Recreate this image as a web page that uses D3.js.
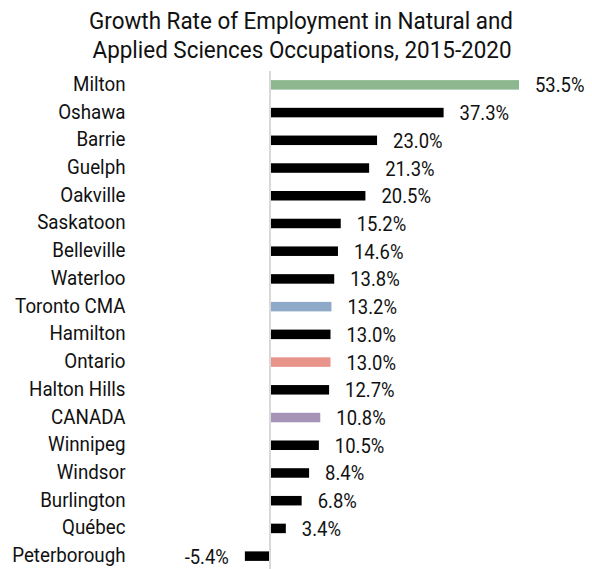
<!DOCTYPE html>
<html>
<head>
<meta charset="utf-8">
<script src="https://cdn.jsdelivr.net/npm/d3@7"></script>
<style>
  html, body { margin: 0; padding: 0; background: #fff; }
  svg { display: block; font-family: Roboto, "Noto Sans", sans-serif; }
</style>
</head>
<body>
<svg id="chart" width="592" height="569"></svg>
<script>
// Growth rate of employment in natural and applied sciences occupations, 2015-2020 (%)
const titleLines = [
  "Growth Rate of Employment in Natural and",
  "Applied Sciences Occupations, 2015-2020"
];
const places = [
  "Milton", "Oshawa", "Barrie", "Guelph", "Oakville", "Saskatoon",
  "Belleville", "Waterloo", "Toronto CMA", "Hamilton", "Ontario",
  "Halton Hills", "CANADA", "Winnipeg", "Windsor", "Burlington",
  "Québec", "Peterborough"
];
const growth = [
  53.5, 37.3, 23.0, 21.3, 20.5, 15.2,
  14.6, 13.8, 13.2, 13.0, 13.0,
  12.7, 10.8, 10.5, 8.4, 6.8,
  3.4, -5.4
];
// Highlighted places get their own fill; everything else is black
const highlight = {
  "Milton": "#8db88f",
  "Toronto CMA": "#8faac8",
  "Ontario": "#e9948a",
  "CANADA": "#a793b8"
};

const rows = places.map((p, i) => ({ place: p, value: growth[i] }));

const svg = d3.select("#chart");

const x = d3.scaleLinear().domain([0, 53.5]).range([270, 519]);
const y = d3.scaleBand().domain(places).range([71, 570]).paddingInner(0.657).paddingOuter(0.3285);

// Condensed text helper: draw inside a horizontally scaled group
function ctext(g, px, py, str, anchor, size, squeeze) {
  return g.append("text")
    .attr("transform", `translate(${px},${py}) scale(${squeeze},1)`)
    .attr("text-anchor", anchor)
    .attr("font-size", size)
    .attr("fill", "#111")
    .text(str);
}

// Title
const tg = svg.append("g");
ctext(tg, 301, 28.5, titleLines[0], "middle", 24, 0.935);
ctext(tg, 302, 57.5, titleLines[1], "middle", 24, 0.935);

// Bars
svg.append("g").selectAll("rect")
  .data(rows)
  .join("rect")
  .attr("x", d => Math.min(x(0), x(d.value)))
  .attr("y", d => y(d.place))
  .attr("width", d => Math.abs(x(d.value) - x(0)))
  .attr("height", y.bandwidth())
  .attr("fill", d => highlight[d.place] || "#000");

// Zero line
svg.append("line")
  .attr("x1", x(0)).attr("x2", x(0))
  .attr("y1", y.range()[0]).attr("y2", 569)
  .attr("stroke", "#d9d9d9")
  .attr("stroke-width", 2);

// Category labels
const lg = svg.append("g");
rows.forEach(d => {
  const cy = y(d.place) + y.bandwidth() / 2;
  ctext(lg, 125.5, cy + 6, d.place, "end", 20.5, 0.915);
});

// Value labels
const vg = svg.append("g");
rows.forEach(d => {
  const cy = y(d.place) + y.bandwidth() / 2;
  const label = d.value.toFixed(1) + "%";
  if (d.value >= 0) ctext(vg, x(d.value) + 16, cy + 7.5, label, "start", 20.5, 0.9);
  else ctext(vg, x(d.value) - 16, cy + 7.5, label, "end", 20.5, 0.9);
});
</script>
</body>
</html>
